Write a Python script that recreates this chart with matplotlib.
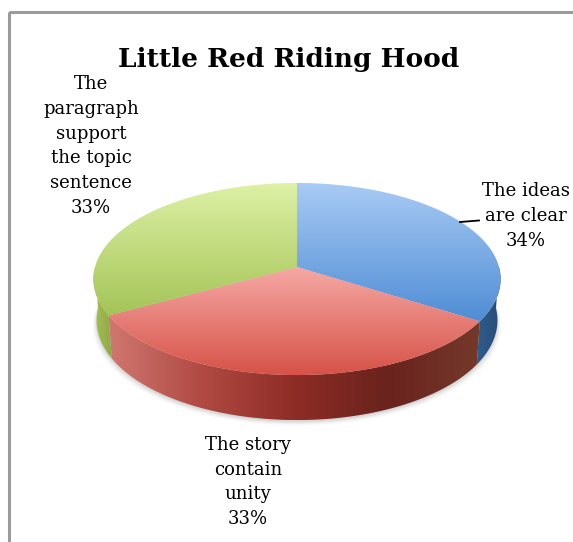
import numpy as np
import matplotlib
matplotlib.use("Agg")
import matplotlib.pyplot as plt
from matplotlib.patches import Polygon, Rectangle
from matplotlib.colors import LinearSegmentedColormap

# ---- data ----
title = "Little Red Riding Hood"
categories = ["The ideas are clear", "The story contain unity",
              "The paragraph support the topic sentence"]
wrapped = ["The ideas\nare clear", "The story\ncontain\nunity",
           "The\nparagraph\nsupport\nthe topic\nsentence"]
values = [34, 33, 33]

# ---- styling ----
top_colors = [("#a9cbf4", "#4f8dd5"), ("#f6a9a5", "#d65248"), ("#def1a6", "#a4c457")]
side_colors = [["#2f5c8c", "#274d77"],
               ["#cf7770", "#b04a43", "#8e2c26", "#6a231d", "#74392b"],
               ["#a6c158", "#8faa45"]]
label_pos = [(526, 216), (248, 482), (91, 146)]

W, H = 573, 542
fig = plt.figure(figsize=(W / 100, H / 100), dpi=100)
ax = fig.add_axes([0, 0, 1, 1])
ax.set_xlim(0, W)
ax.set_ylim(H, 0)
ax.axis("off")

# perspective projection of a tilted disc
CX, CY = 297, 267
tilt = np.arcsin(0.468)
s_t, c_t = np.sin(tilt), np.cos(tilt)
D, F, DEPTH = 8 * c_t, 1428.0, 0.234


def project(theta, h=0.0):
    X, Z = np.cos(theta), np.sin(theta)
    y3 = Z * s_t - h * c_t
    d3 = D + Z * c_t + h * s_t
    return CX + F * X / d3, CY - F * y3 / d3


def grad_fill(poly, stops, horizontal=False, z=1):
    xs, ys = poly[:, 0], poly[:, 1]
    x0, x1, y0, y1 = xs.min(), xs.max(), ys.min(), ys.max()
    cmap = LinearSegmentedColormap.from_list("g", stops)
    t = np.linspace(0, 1, 256)
    rgb = cmap(t)[:, :3]
    img = rgb[np.newaxis, :, :] if horizontal else rgb[:, np.newaxis, :]
    patch = Polygon(poly, closed=True, facecolor="none", edgecolor="none")
    ax.add_patch(patch)
    im = ax.imshow(img, extent=(x0, x1, y1, y0), origin="upper",
                   aspect="auto", interpolation="bilinear", zorder=z)
    im.set_clip_path(patch)


# frame
ax.add_patch(Rectangle((8.5, 11.5), 600, 600, fill=False,
                       edgecolor="#9b9b9b", linewidth=2.2, zorder=0))

# slice angles: start at 12 o'clock, clockwise
total = sum(values)
fracs = [v / total for v in values]
bounds = np.pi / 2 - 2 * np.pi * np.concatenate([[0], np.cumsum(fracs)])

# soft shadow under the pie
for k, a in zip(range(6), [0.04, 0.035, 0.03, 0.025, 0.018, 0.012]):
    th = np.linspace(0, 2 * np.pi, 200)
    bx, by = project(th, DEPTH)
    sc = 1 + 0.004 * k
    ax.add_patch(Polygon(np.column_stack([CX + (bx - CX) * sc, by + 1.5 + k * 0.9]),
                         closed=True, facecolor="black", edgecolor="none",
                         alpha=a, zorder=0.5))

# side walls (front half only)
for i in range(len(values)):
    th = np.linspace(bounds[i + 1], bounds[i], 400)
    front = np.mod(th, 2 * np.pi) >= np.pi
    if not front.any():
        continue
    th = th[front]
    tx, ty = project(th)
    bx, by = project(th, DEPTH)
    poly = np.column_stack([np.concatenate([tx, bx[::-1]]),
                            np.concatenate([ty, by[::-1]])])
    grad_fill(poly, side_colors[i], horizontal=True, z=1)

# top faces
for i in range(len(values)):
    th = np.linspace(bounds[i + 1], bounds[i], 300)
    tx, ty = project(th)
    poly = np.column_stack([np.concatenate([[CX], tx]), np.concatenate([[CY], ty])])
    grad_fill(poly, list(top_colors[i]), horizontal=False, z=2)

# title
ax.text(289, 59, title, ha="center", va="center", fontsize=19,
        fontweight="bold", family="DejaVu Serif", color="black", zorder=5)

# data labels
for i, (txt, v) in enumerate(zip(wrapped, values)):
    pct = round(100 * v / total)
    x, y = label_pos[i]
    ax.text(x, y, f"{txt}\n{pct}%", ha="center", va="center", fontsize=13,
            family="DejaVu Serif", linespacing=1.48, color="black", zorder=5)

# leader line for the first label
ax.plot([460, 479], [222, 220.5], color="black", lw=1.3, zorder=5)

fig.savefig("out.png", dpi=100)
